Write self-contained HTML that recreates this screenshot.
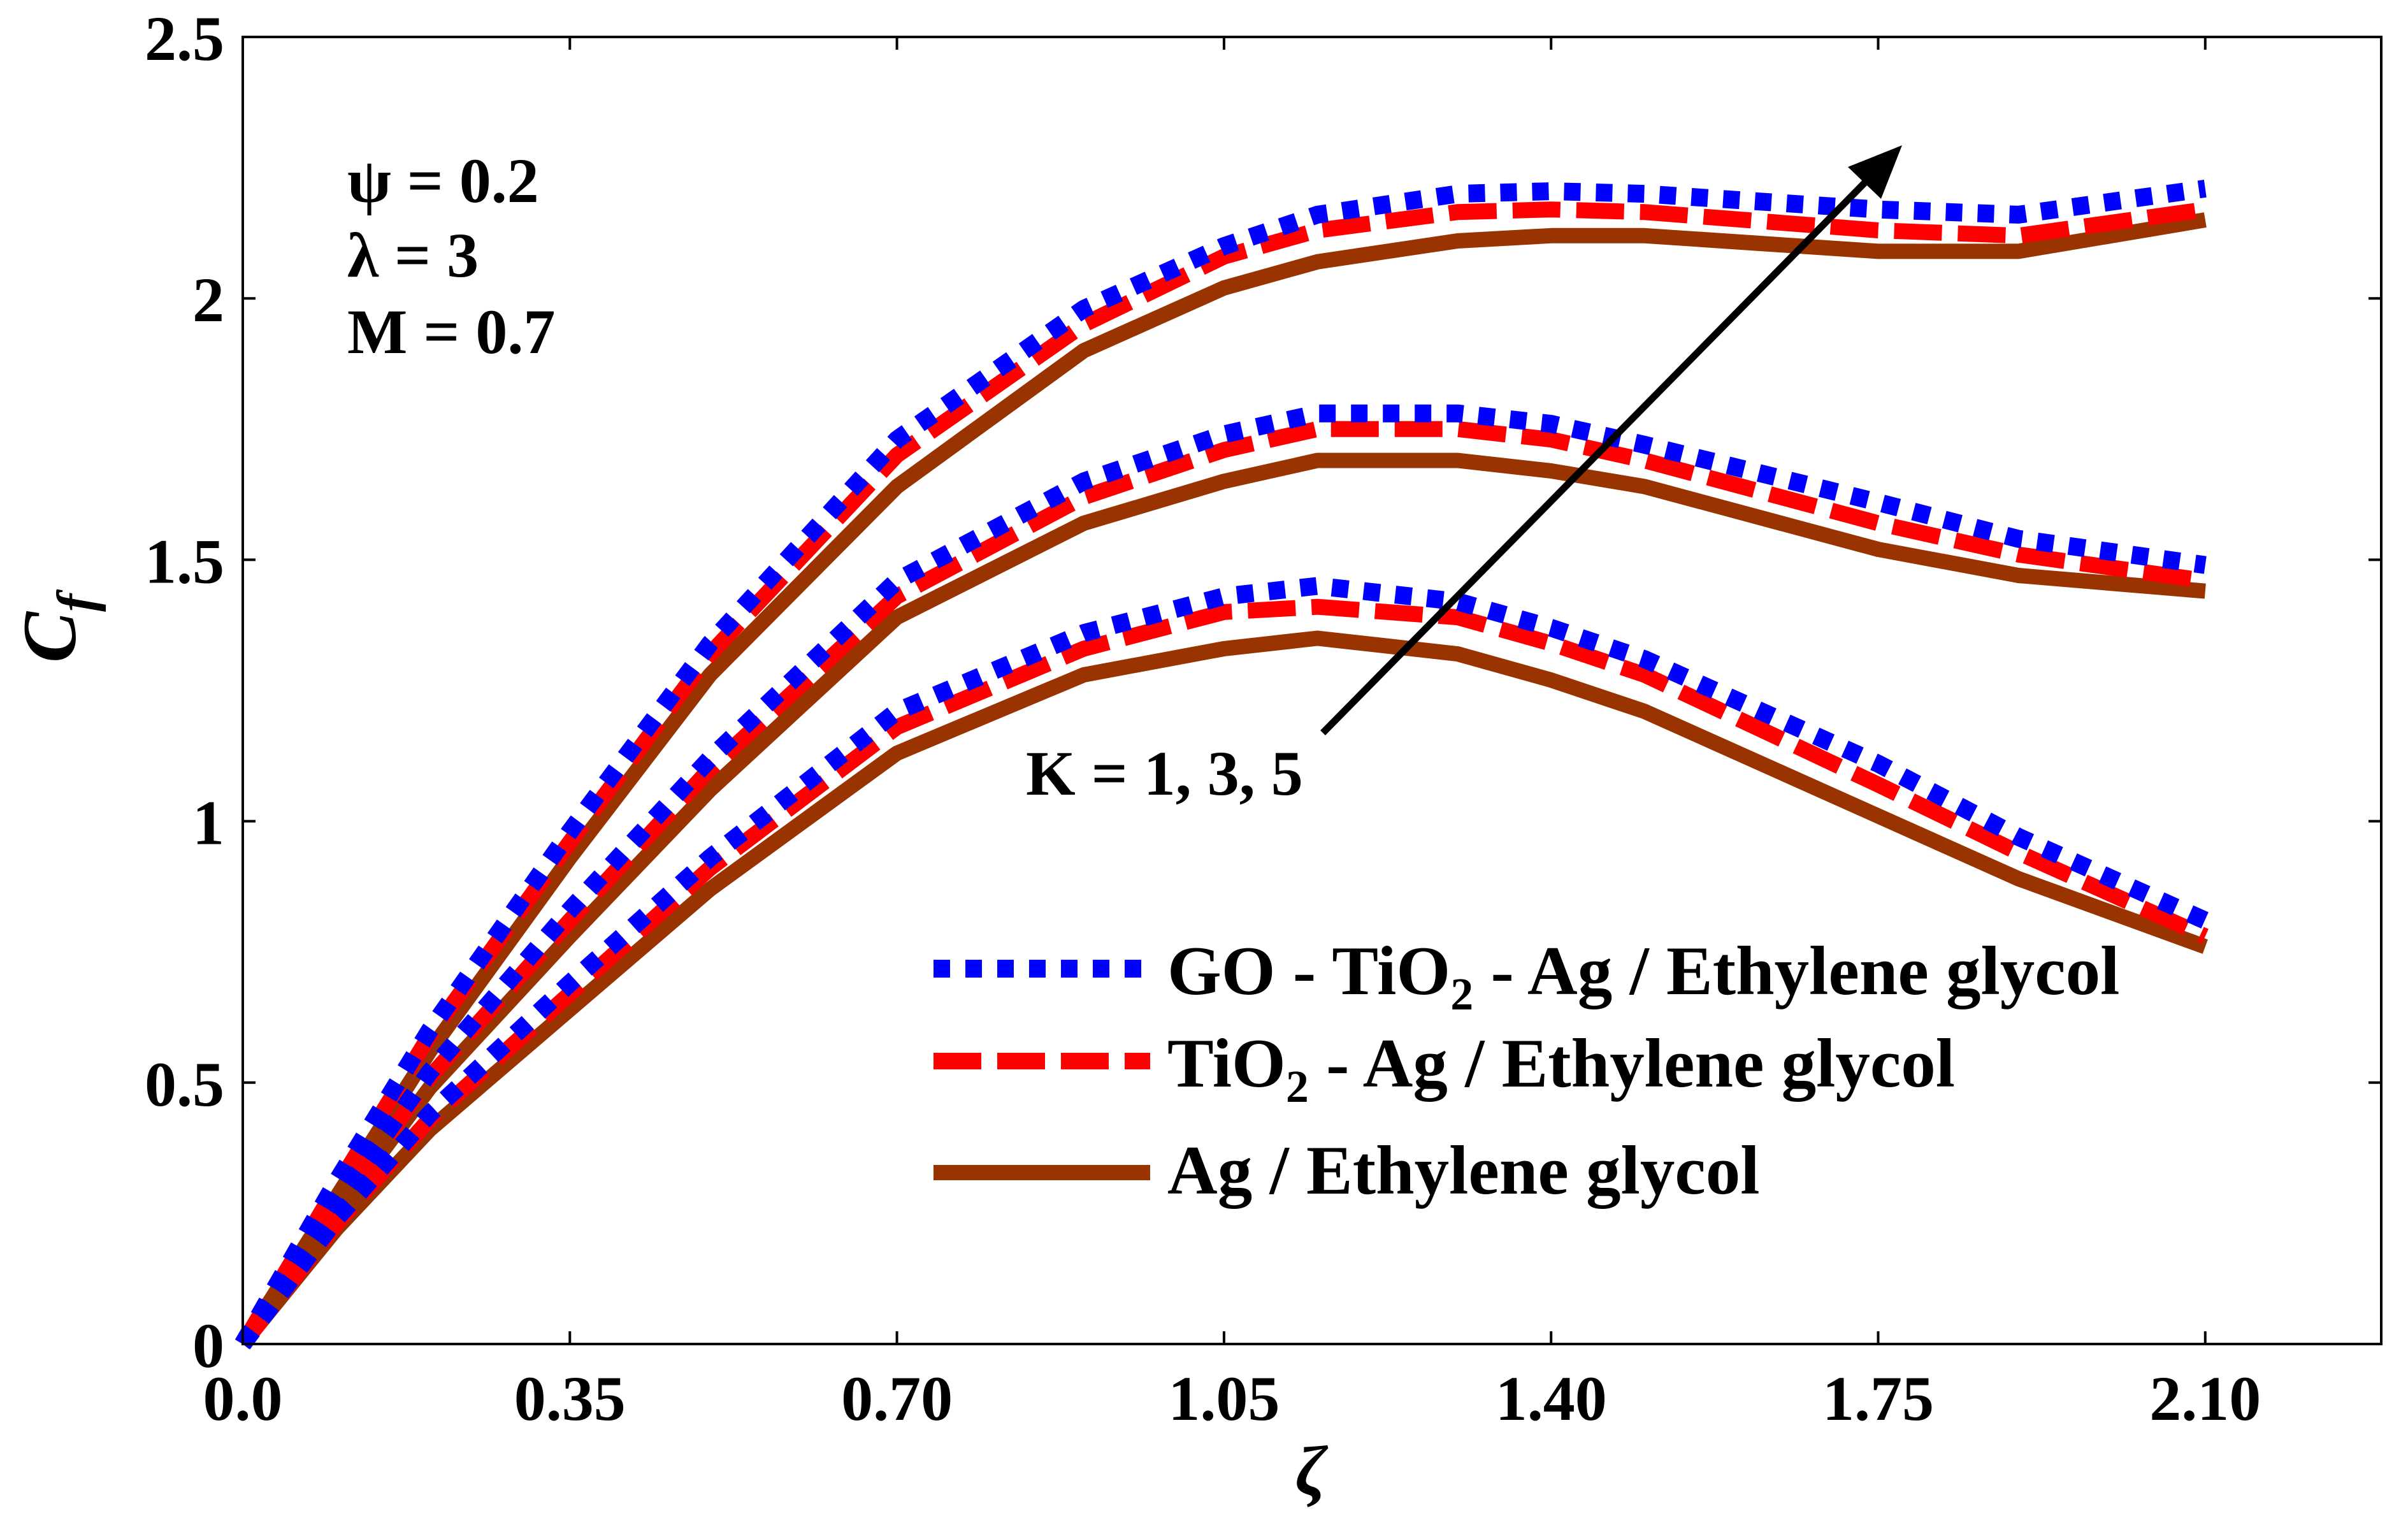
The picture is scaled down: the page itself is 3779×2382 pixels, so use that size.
<!DOCTYPE html>
<html><head><meta charset="utf-8"><style>
html,body{margin:0;padding:0;background:#fff;}
svg{display:block;}
text{font-family:"Liberation Serif",serif;font-weight:bold;fill:#000;}
</style></head><body>
<svg id="chart" width="3779" height="2382" viewBox="0 0 3779 2382" xmlns="http://www.w3.org/2000/svg">
<rect x="0" y="0" width="3779" height="2382" fill="#fff"/>
<g id="marks"></g>
<rect x="381" y="58" width="3356" height="2051" fill="none" stroke="#000" stroke-width="4"/>
<g id="ticks"></g>
<text x="545" y="317" font-size="100">ψ = 0.2</text>
<text x="545" y="434" font-size="100">λ = 3</text>
<text x="545" y="554" font-size="100">M = 0.7</text>
<text x="1610" y="1247" font-size="100">K = 1, 3, 5</text>
<g>
<line x1="2076" y1="1150" x2="2935" y2="278" stroke="#000" stroke-width="11"/>
<polygon points="2985,228 2900,262 2952,312" fill="#000"/>
</g>
<g>
<g>
<line x1="1465" y1="1520" x2="1805" y2="1520" stroke="#0000ff" stroke-width="28" stroke-dasharray="26,24"/>
<text x="1832" y="1560" font-size="109">GO - TiO<tspan font-size="72" dy="24">2</tspan><tspan dy="-24"> - Ag / Ethylene glycol</tspan></text>
</g>
<g>
<line x1="1465" y1="1665" x2="1805" y2="1665" stroke="#ff0000" stroke-width="26" stroke-dasharray="75,25"/>
<text x="1832" y="1705" font-size="109">TiO<tspan font-size="72" dy="24">2</tspan><tspan dy="-24"> - Ag / Ethylene glycol</tspan></text>
</g>
<g>
<line x1="1465" y1="1840" x2="1805" y2="1840" stroke="#993300" stroke-width="24"/>
<text x="1832" y="1873" font-size="109">Ag / Ethylene glycol</text>
</g>
</g>
<text transform="translate(118,1040) rotate(-90)" font-size="120" font-style="italic" font-weight="bold">C<tspan font-size="85" dy="30">f</tspan></text>
<text x="2057" y="2345" font-size="110" font-style="italic" text-anchor="middle">ζ</text>
</svg>
<script>
const xs = [0,0.1,0.2,0.35,0.5,0.7,0.9,1.05,1.15,1.3,1.4,1.5,1.75,1.9,2.1];
const topBlue = [0,0.31,0.6,0.98,1.34,1.73,1.98,2.10,2.16,2.20,2.205,2.20,2.17,2.16,2.21];
const topRed = [0,0.30,0.59,0.96,1.32,1.70,1.95,2.08,2.13,2.165,2.17,2.165,2.13,2.12,2.17];
const topBrown = [0,0.28,0.56,0.93,1.28,1.64,1.90,2.02,2.07,2.11,2.12,2.12,2.09,2.09,2.15];
const midBlue = [0,0.27,0.52,0.83,1.12,1.46,1.65,1.74,1.78,1.78,1.76,1.72,1.61,1.54,1.49];
const midRed = [0,0.26,0.51,0.81,1.10,1.43,1.62,1.71,1.75,1.75,1.73,1.69,1.57,1.51,1.46];
const midBrown = [0,0.25,0.49,0.78,1.06,1.39,1.57,1.65,1.69,1.69,1.67,1.64,1.52,1.47,1.44];
const botBlue = [0,0.24,0.44,0.69,0.93,1.21,1.36,1.43,1.45,1.42,1.37,1.31,1.11,0.97,0.81];
const botRed = [0,0.23,0.43,0.67,0.91,1.18,1.33,1.40,1.41,1.39,1.34,1.28,1.07,0.94,0.78];
const botBrown = [0,0.22,0.41,0.64,0.87,1.13,1.28,1.33,1.35,1.32,1.27,1.21,1.01,0.89,0.76];
const xTicks = [0,0.35,0.70,1.05,1.40,1.75,2.10];
const xTickLabels = ["0.0","0.35","0.70","1.05","1.40","1.75","2.10"];
const yTicks = [0,0.5,1,1.5,2,2.5];
const yTickLabels = ["0","0.5","1","1.5","2","2.5"];

const NS="http://www.w3.org/2000/svg";
function sx(v){return 381+v/0.35*513.3;}
function sy(v){return 2109-v/0.5*410.2;}
const marks=document.getElementById('marks');
const ticks=document.getElementById('ticks');
function draw(arr,color,width,dash,name){
  const p=document.createElementNS(NS,'path');
  
  
  p.setAttribute('d',arr.map((v,i)=>(i?'L':'M')+sx(xs[i]).toFixed(1)+','+sy(v).toFixed(1)).join(''));
  p.setAttribute('fill','none');p.setAttribute('stroke',color);
  p.setAttribute('stroke-width',width);p.setAttribute('stroke-linejoin','round');
  if(dash)p.setAttribute('stroke-dasharray',dash);
  marks.appendChild(p);
}
const groups=[[topBlue,topRed,topBrown,'k5'],[midBlue,midRed,midBrown,'k3'],[botBlue,botRed,botBrown,'k1']];
groups.forEach(g=>{
  draw(g[2],'#993300',24,null,'series-ag-'+g[3]);
  draw(g[1],'#ff0000',25,'75,25','series-tio2-ag-'+g[3]);
  draw(g[0],'#0000ff',28,'26,24','series-go-tio2-ag-'+g[3]);
});
xTicks.forEach((t,i)=>{
  const x=sx(t);
  [[2109,2089],[58,78]].forEach(a=>{
    const l=document.createElementNS(NS,'line');
    
    
    l.setAttribute('x1',x);l.setAttribute('x2',x);l.setAttribute('y1',a[0]);l.setAttribute('y2',a[1]);
    l.setAttribute('stroke','#000');l.setAttribute('stroke-width',4);ticks.appendChild(l);
  });
  const tx=document.createElementNS(NS,'text');
  
  
  tx.setAttribute('x',x);tx.setAttribute('y',2228);tx.setAttribute('font-size','100');
  tx.setAttribute('text-anchor','middle');tx.textContent=xTickLabels[i];ticks.appendChild(tx);
});
yTicks.forEach((t,i)=>{
  const y=sy(t);
  [[381,401],[3737,3717]].forEach(a=>{
    const l=document.createElementNS(NS,'line');
    
    
    l.setAttribute('x1',a[0]);l.setAttribute('x2',a[1]);l.setAttribute('y1',y);l.setAttribute('y2',y);
    l.setAttribute('stroke','#000');l.setAttribute('stroke-width',4);ticks.appendChild(l);
  });
  const tx=document.createElementNS(NS,'text');
  
  
  tx.setAttribute('x',352);tx.setAttribute('y',y+36);tx.setAttribute('font-size','100');
  tx.setAttribute('text-anchor','end');tx.textContent=yTickLabels[i];ticks.appendChild(tx);
});
</script>
</body></html>
